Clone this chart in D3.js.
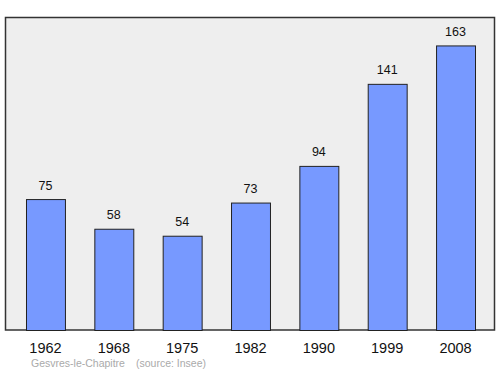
<!DOCTYPE html>
<html><head><meta charset="utf-8">
<script src="https://cdn.jsdelivr.net/npm/d3@7"></script>
<style>body{margin:0;background:#fff}svg{display:block}</style>
</head><body>
<svg id="c" width="500" height="374"></svg>
<script>
const years = ["1962","1968","1975","1982","1990","1999","2008"];
const population = [75,58,54,73,94,141,163];
const yMax = 179;
const title = "Gesvres-le-Chapitre";
const source = "(source: Insee)";

const svg = d3.select("#c");
const plot = {left:5.5, top:17.5, right:494.5, bottom:330};
svg.append("rect").attr("x",plot.left).attr("y",plot.top)
  .attr("width",plot.right-plot.left).attr("height",plot.bottom-plot.top)
  .attr("fill","#eeeeee").attr("stroke","#333").attr("stroke-width",1.5);

const x = d3.scaleBand().domain(years).range([11.3,489.7]).paddingInner(0.43).paddingOuter(0.215);
const y = d3.scaleLinear().domain([0,yMax]).range([plot.bottom,plot.top]);

svg.selectAll("rect.bar").data(population).enter().append("rect").attr("class","bar")
  .attr("x",(d,i)=>x(years[i])+0.5).attr("y",d=>y(d)+0.5)
  .attr("width",x.bandwidth()).attr("height",d=>plot.bottom-y(d))
  .attr("fill","#7799ff").attr("stroke","#222").attr("stroke-width",1);

svg.selectAll("text.val").data(population).enter().append("text").attr("class","val")
  .attr("x",(d,i)=>x(years[i])+x.bandwidth()/2).attr("y",d=>y(d)-9.5)
  .attr("text-anchor","middle").attr("font-family","Liberation Sans, Arial, sans-serif")
  .attr("font-size",12.5).attr("fill","#111").text(d=>d);

const xAxis = d3.axisBottom(x).tickSize(0).tickPadding(0);
const ax = svg.append("g").attr("transform",`translate(0,${plot.bottom})`).call(xAxis);
ax.select(".domain").remove();
ax.selectAll("text").attr("dy",null).attr("y",23).attr("font-family","Liberation Sans, Arial, sans-serif")
  .attr("font-size",14.5).attr("fill","#111");

svg.append("text").attr("x",31).attr("y",367).attr("font-family","Liberation Sans, Arial, sans-serif")
  .attr("font-size",10.5).attr("fill","#aaa").text(title);
svg.append("text").attr("x",136).attr("y",367).attr("font-family","Liberation Sans, Arial, sans-serif")
  .attr("font-size",10.5).attr("fill","#aaa").text(source);
</script>
</body></html>
